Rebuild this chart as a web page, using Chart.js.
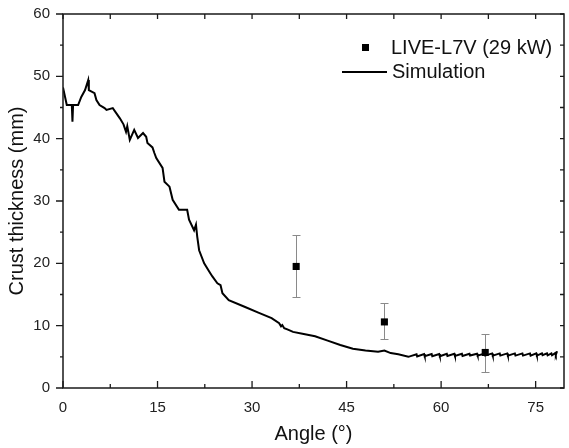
<!DOCTYPE html>
<html>
<head>
<meta charset="utf-8">
<script src="https://cdn.jsdelivr.net/npm/chart.js@4"></script>
<style>
  html, body { margin: 0; padding: 0; background: #fff; }
  #wrap { width: 569px; height: 448px; }
</style>
</head>
<body>
<div id="wrap"><canvas id="chart"></canvas></div>
<script>
// measured points (LIVE-L7V, 29 kW)
const liveAngle = [37, 51, 67]
const liveThickness = [19.5, 10.6, 5.7]
const liveLow = [14.6, 7.8, 2.6]
const liveHigh = [24.6, 13.7, 8.7]

// simulated crust profile
const simAngle = [
  0, 0.6, 1.4, 1.5, 1.6, 2.4, 2.9, 3.5, 4.0, 4.1, 5.0, 5.3, 5.8, 6.6, 6.9, 7.9, 9.0, 9.6,
  10.0, 10.2, 10.6, 11.3, 11.9, 12.7, 13.2, 13.4, 14.2, 14.5, 14.8, 15.8, 16.1, 16.9, 17.4,
  18.4, 19.7, 20.0, 20.8, 21.1, 21.3, 21.6, 22.4, 23.2, 23.7, 24.5, 25.0, 25.3, 26.3,
  28.9, 31.0, 33.1, 34.3, 34.6, 34.8, 35.1, 35.6, 36.5, 38.0, 40.0, 42.0, 44.0, 46.0,
  48.0, 50.0, 51.0, 52.0, 53.2, 54.8,
  56.1, 56.2, 57.3, 57.4, 58.5, 58.6, 59.7, 59.8, 60.9, 61.0, 62.1, 62.2, 63.3, 63.4,
  64.5, 64.6, 65.7, 65.8, 66.9, 67.0, 68.1, 68.2, 69.3, 69.4, 70.5, 70.6, 71.7, 71.8,
  72.9, 73.0, 74.1, 74.2, 75.1, 75.2, 76.0, 76.1, 76.8, 76.9, 77.5, 77.6, 78.1, 78.2, 78.4
]
const simThickness = [
  48.2, 45.4, 45.4, 42.7, 45.4, 45.4, 46.7, 47.8, 49.4, 47.8, 47.3, 46.2, 45.4, 44.9, 44.6, 44.9, 43.3, 42.3,
  41.1, 42.0, 39.8, 41.4, 40.1, 40.9, 40.3, 39.3, 38.6, 37.7, 36.9, 35.3, 33.1, 32.3, 30.2,
  28.6, 28.6, 27.0, 25.3, 26.2, 24.3, 22.1, 20.0, 18.7, 17.9, 16.8, 16.5, 15.2, 14.1,
  13.0, 12.1, 11.2, 10.4, 9.9, 10.1, 9.6, 9.4, 9.0, 8.7, 8.3, 7.6, 6.9, 6.3,
  6.0, 5.8, 6.0, 5.6, 5.4, 5.0,
  5.4, 5.05, 5.45, 5.1, 5.45, 5.1, 5.45, 5.1, 5.5, 5.15, 5.5, 5.15, 5.5, 5.15,
  5.5, 5.2, 5.5, 5.2, 5.55, 5.2, 5.55, 5.2, 5.55, 5.2, 5.55, 5.2, 5.55, 5.2,
  5.55, 5.2, 5.55, 5.2, 5.55, 5.2, 5.55, 5.25, 5.55, 5.25, 5.55, 5.25, 5.6, 5.3, 5.9
]

const xMajor = [0, 15, 30, 45, 60, 75]
const yMajor = [0, 10, 20, 30, 40, 50, 60]

const FONT = '"Liberation Sans", Arial, sans-serif'
const AXIS = '#1a1a1a'

const frame = {
  id: 'frame',
  beforeDatasetsDraw(chart) {
    // error bars sit behind the markers
    const ctx = chart.ctx
    const x = chart.scales.x
    const y = chart.scales.y
    ctx.save()
    ctx.strokeStyle = '#8a8a8a'
    ctx.lineWidth = 1
    liveAngle.forEach((v, i) => {
      const px = Math.round(x.getPixelForValue(v)) + 0.5
      const lo = Math.round(y.getPixelForValue(liveLow[i])) + 0.5
      const hi = Math.round(y.getPixelForValue(liveHigh[i])) + 0.5
      ctx.beginPath()
      ctx.moveTo(px, lo); ctx.lineTo(px, hi)
      ctx.moveTo(px - 4, lo); ctx.lineTo(px + 4, lo)
      ctx.moveTo(px - 4, hi); ctx.lineTo(px + 4, hi)
      ctx.stroke()
    })
    ctx.restore()
  },
  afterDatasetsDraw(chart) {
    const ctx = chart.ctx
    const x = chart.scales.x
    const y = chart.scales.y
    const a = chart.chartArea
    ctx.save()

    // box
    ctx.strokeStyle = AXIS
    ctx.lineWidth = 1.5
    ctx.strokeRect(a.left, a.top, a.right - a.left, a.bottom - a.top)

    // ticks
    ctx.lineWidth = 1.3
    ctx.beginPath()
    for (let v = 0; v <= 79.5; v += 7.5) {
      const px = x.getPixelForValue(v)
      const major = v % 15 === 0
      ctx.moveTo(px, a.bottom); ctx.lineTo(px, a.bottom - (major ? 7 : 4))
      ctx.moveTo(px, a.top); ctx.lineTo(px, a.top + 5)
    }
    for (let v = 0; v <= 60; v += 5) {
      const py = y.getPixelForValue(v)
      const major = v % 10 === 0
      ctx.moveTo(a.left, py); ctx.lineTo(a.left - (major ? 7 : 3), py)
      ctx.moveTo(a.right, py); ctx.lineTo(a.right - 4, py)
    }
    ctx.stroke()

    // legend
    ctx.fillStyle = '#000'
    ctx.fillRect(362, 44, 7, 7)
    ctx.strokeStyle = '#000'
    ctx.lineWidth = 2
    ctx.beginPath()
    ctx.moveTo(342, 72); ctx.lineTo(387, 72)
    ctx.stroke()
    ctx.font = '20px ' + FONT
    ctx.fillStyle = '#111'
    ctx.textBaseline = 'middle'
    ctx.textAlign = 'left'
    ctx.fillText('LIVE-L7V (29 kW)', 391, 48)
    ctx.fillText('Simulation', 392, 72)
    ctx.restore()
  }
}

new Chart(document.getElementById('chart'), {
  type: 'scatter',
  data: {
    datasets: [
      {
        label: 'Simulation',
        type: 'line',
        data: simAngle.map((a, i) => ({ x: a, y: simThickness[i] })),
        borderColor: '#000',
        borderWidth: 2,
        pointRadius: 0,
        tension: 0,
        order: 2
      },
      {
        label: 'LIVE-L7V (29 kW)',
        data: liveAngle.map((a, i) => ({ x: a, y: liveThickness[i] })),
        backgroundColor: '#000',
        borderColor: '#000',
        borderWidth: 0,
        pointStyle: 'rect',
        pointRadius: 5,
        order: 1
      }
    ]
  },
  options: {
    responsive: true,
    maintainAspectRatio: false,
    animation: false,
    layout: { padding: { top: 14, right: 2, left: 0, bottom: 0 } },
    plugins: { legend: { display: false }, tooltip: { enabled: false } },
    scales: {
      x: {
        type: 'linear',
        min: 0,
        max: 79.5,
        afterFit: (s) => { s.height = 60; s.paddingLeft = 0; s.paddingRight = 0 },
        afterBuildTicks: (s) => { s.ticks = xMajor.map((v) => ({ value: v })) },
        grid: { display: false, drawTicks: false },
        border: { display: false },
        ticks: { padding: 11, color: '#222', font: { family: FONT, size: 15 } },
        title: {
          display: true,
          text: 'Angle (°)',
          color: '#111',
          font: { family: FONT, size: 20 },
          padding: { top: 0, bottom: 2 }
        }
      },
      y: {
        min: 0,
        max: 60,
        afterFit: (s) => { s.width = 63; s.paddingTop = 0; s.paddingBottom = 0 },
        afterBuildTicks: (s) => { s.ticks = yMajor.map((v) => ({ value: v })) },
        grid: { display: false, drawTicks: false },
        border: { display: false },
        ticks: { padding: 13, color: '#222', font: { family: FONT, size: 15 } },
        title: {
          display: true,
          text: 'Crust thickness (mm)',
          color: '#111',
          font: { family: FONT, size: 20 },
          padding: { top: 5, bottom: 0 }
        }
      }
    }
  },
  plugins: [frame]
})
</script>
</body>
</html>
